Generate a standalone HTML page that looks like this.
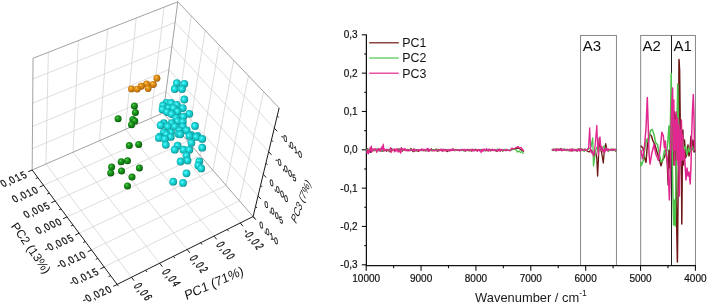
<!DOCTYPE html>
<html><head><meta charset="utf-8"><style>
html,body{margin:0;padding:0;background:#fff;}
svg{display:block;will-change:transform;}
text{font-family:"Liberation Sans",sans-serif;}
</style></head><body>
<svg width="708" height="305" viewBox="0 0 708 305">
<defs>
<radialGradient id="gc" cx="0.45" cy="0.47" r="0.58" fx="0.38" fy="0.4">
<stop offset="0" stop-color="#7cfcfc"/><stop offset="0.3" stop-color="#22e4e6"/><stop offset="0.75" stop-color="#12b6b8"/><stop offset="1" stop-color="#087e80"/></radialGradient>
<radialGradient id="gg" cx="0.45" cy="0.45" r="0.58" fx="0.36" fy="0.33">
<stop offset="0" stop-color="#6ad86a"/><stop offset="0.3" stop-color="#22a022"/><stop offset="0.75" stop-color="#0f7a0f"/><stop offset="1" stop-color="#054805"/></radialGradient>
<radialGradient id="go" cx="0.45" cy="0.45" r="0.58" fx="0.36" fy="0.33">
<stop offset="0" stop-color="#ffd870"/><stop offset="0.3" stop-color="#e8981e"/><stop offset="0.75" stop-color="#c8780a"/><stop offset="1" stop-color="#8a4a00"/></radialGradient>
</defs>
<g><line x1="48.34" y1="52.30" x2="45.95" y2="164.02" stroke="#cfcfcf" stroke-width="0.7"/>
<line x1="78.35" y1="40.60" x2="73.02" y2="152.23" stroke="#cfcfcf" stroke-width="0.7"/>
<line x1="107.63" y1="29.18" x2="99.49" y2="140.70" stroke="#cfcfcf" stroke-width="0.7"/>
<line x1="136.20" y1="18.03" x2="125.39" y2="129.43" stroke="#cfcfcf" stroke-width="0.7"/>
<line x1="164.10" y1="7.16" x2="150.73" y2="118.39" stroke="#cfcfcf" stroke-width="0.7"/>
<line x1="32.89" y1="79.00" x2="175.10" y2="22.34" stroke="#cfcfcf" stroke-width="0.7"/>
<line x1="32.70" y1="103.27" x2="171.94" y2="46.43" stroke="#cfcfcf" stroke-width="0.7"/>
<line x1="32.52" y1="126.49" x2="168.91" y2="69.52" stroke="#cfcfcf" stroke-width="0.7"/>
<line x1="32.35" y1="148.71" x2="166.00" y2="91.68" stroke="#cfcfcf" stroke-width="0.7"/>
<line x1="191.31" y1="15.96" x2="175.27" y2="126.87" stroke="#cfcfcf" stroke-width="0.7"/>
<line x1="205.13" y1="30.43" x2="187.58" y2="141.05" stroke="#cfcfcf" stroke-width="0.7"/>
<line x1="219.26" y1="45.22" x2="200.14" y2="155.53" stroke="#cfcfcf" stroke-width="0.7"/>
<line x1="233.71" y1="60.36" x2="212.97" y2="170.31" stroke="#cfcfcf" stroke-width="0.7"/>
<line x1="248.50" y1="75.84" x2="226.06" y2="185.39" stroke="#cfcfcf" stroke-width="0.7"/>
<line x1="263.64" y1="91.69" x2="239.43" y2="200.80" stroke="#cfcfcf" stroke-width="0.7"/>
<line x1="274.30" y1="128.12" x2="175.10" y2="22.34" stroke="#cfcfcf" stroke-width="0.7"/>
<line x1="268.64" y1="151.72" x2="171.94" y2="46.43" stroke="#cfcfcf" stroke-width="0.7"/>
<line x1="263.22" y1="174.29" x2="168.91" y2="69.52" stroke="#cfcfcf" stroke-width="0.7"/>
<line x1="258.04" y1="195.87" x2="166.00" y2="91.68" stroke="#cfcfcf" stroke-width="0.7"/>
<line x1="131.48" y1="277.27" x2="45.95" y2="164.02" stroke="#cfcfcf" stroke-width="0.7"/>
<line x1="159.63" y1="263.21" x2="73.02" y2="152.23" stroke="#cfcfcf" stroke-width="0.7"/>
<line x1="187.12" y1="249.48" x2="99.49" y2="140.70" stroke="#cfcfcf" stroke-width="0.7"/>
<line x1="213.97" y1="236.07" x2="125.39" y2="129.43" stroke="#cfcfcf" stroke-width="0.7"/>
<line x1="240.20" y1="222.97" x2="150.73" y2="118.39" stroke="#cfcfcf" stroke-width="0.7"/>
<line x1="43.55" y1="185.31" x2="175.27" y2="126.87" stroke="#cfcfcf" stroke-width="0.7"/>
<line x1="55.15" y1="200.95" x2="187.58" y2="141.05" stroke="#cfcfcf" stroke-width="0.7"/>
<line x1="67.01" y1="216.92" x2="200.14" y2="155.53" stroke="#cfcfcf" stroke-width="0.7"/>
<line x1="79.13" y1="233.24" x2="212.97" y2="170.31" stroke="#cfcfcf" stroke-width="0.7"/>
<line x1="91.52" y1="249.92" x2="226.06" y2="185.39" stroke="#cfcfcf" stroke-width="0.7"/>
<line x1="104.19" y1="266.98" x2="239.43" y2="200.80" stroke="#cfcfcf" stroke-width="0.7"/>
<line x1="33.05" y1="58.26" x2="177.80" y2="1.81" stroke="#8a8a8a" stroke-width="0.8"/>
<line x1="177.80" y1="1.81" x2="279.15" y2="107.92" stroke="#8a8a8a" stroke-width="0.8"/>
<line x1="33.05" y1="58.26" x2="32.18" y2="170.01" stroke="#8a8a8a" stroke-width="0.8"/>
<line x1="177.80" y1="1.81" x2="163.20" y2="112.96" stroke="#8a8a8a" stroke-width="0.8"/>
<line x1="32.18" y1="170.01" x2="163.20" y2="112.96" stroke="#8a8a8a" stroke-width="0.8"/>
<line x1="163.20" y1="112.96" x2="253.08" y2="216.54" stroke="#8a8a8a" stroke-width="0.8"/>
<line x1="32.18" y1="170.01" x2="117.14" y2="284.43" stroke="#1a1a1a" stroke-width="1.0"/>
<line x1="117.14" y1="284.43" x2="253.08" y2="216.54" stroke="#1a1a1a" stroke-width="1.0"/>
<line x1="279.15" y1="107.92" x2="253.08" y2="216.54" stroke="#1a1a1a" stroke-width="1.0"/>
<line x1="32.18" y1="170.01" x2="28.24" y2="171.73" stroke="#1a1a1a" stroke-width="1.0"/>
<line x1="37.84" y1="177.62" x2="35.73" y2="178.55" stroke="#1a1a1a" stroke-width="1.0"/>
<line x1="43.55" y1="185.31" x2="39.62" y2="187.06" stroke="#1a1a1a" stroke-width="1.0"/>
<line x1="49.32" y1="193.09" x2="47.22" y2="194.03" stroke="#1a1a1a" stroke-width="1.0"/>
<line x1="55.15" y1="200.95" x2="51.24" y2="202.72" stroke="#1a1a1a" stroke-width="1.0"/>
<line x1="61.05" y1="208.89" x2="58.96" y2="209.84" stroke="#1a1a1a" stroke-width="1.0"/>
<line x1="67.01" y1="216.92" x2="63.11" y2="218.72" stroke="#1a1a1a" stroke-width="1.0"/>
<line x1="73.04" y1="225.03" x2="70.96" y2="226.01" stroke="#1a1a1a" stroke-width="1.0"/>
<line x1="79.13" y1="233.24" x2="75.24" y2="235.07" stroke="#1a1a1a" stroke-width="1.0"/>
<line x1="85.29" y1="241.54" x2="83.22" y2="242.52" stroke="#1a1a1a" stroke-width="1.0"/>
<line x1="91.52" y1="249.92" x2="87.64" y2="251.78" stroke="#1a1a1a" stroke-width="1.0"/>
<line x1="97.82" y1="258.41" x2="95.75" y2="259.41" stroke="#1a1a1a" stroke-width="1.0"/>
<line x1="104.19" y1="266.98" x2="100.33" y2="268.87" stroke="#1a1a1a" stroke-width="1.0"/>
<line x1="110.63" y1="275.66" x2="108.57" y2="276.68" stroke="#1a1a1a" stroke-width="1.0"/>
<line x1="117.14" y1="284.43" x2="113.29" y2="286.35" stroke="#1a1a1a" stroke-width="1.0"/>
<line x1="131.48" y1="277.27" x2="134.07" y2="280.70" stroke="#1a1a1a" stroke-width="1.0"/>
<line x1="159.63" y1="263.21" x2="162.28" y2="266.60" stroke="#1a1a1a" stroke-width="1.0"/>
<line x1="187.12" y1="249.48" x2="189.82" y2="252.83" stroke="#1a1a1a" stroke-width="1.0"/>
<line x1="213.97" y1="236.07" x2="216.72" y2="239.38" stroke="#1a1a1a" stroke-width="1.0"/>
<line x1="240.20" y1="222.97" x2="242.99" y2="226.24" stroke="#1a1a1a" stroke-width="1.0"/>
<line x1="117.14" y1="284.43" x2="118.51" y2="286.28" stroke="#1a1a1a" stroke-width="1.0"/>
<line x1="145.64" y1="270.20" x2="147.04" y2="272.02" stroke="#1a1a1a" stroke-width="1.0"/>
<line x1="173.46" y1="256.30" x2="174.89" y2="258.10" stroke="#1a1a1a" stroke-width="1.0"/>
<line x1="200.63" y1="242.73" x2="202.08" y2="244.51" stroke="#1a1a1a" stroke-width="1.0"/>
<line x1="227.16" y1="229.48" x2="228.64" y2="231.24" stroke="#1a1a1a" stroke-width="1.0"/>
<line x1="253.08" y1="216.54" x2="254.59" y2="218.27" stroke="#1a1a1a" stroke-width="1.0"/>
<line x1="274.30" y1="128.12" x2="277.24" y2="131.25" stroke="#1a1a1a" stroke-width="1.0"/>
<line x1="268.64" y1="151.72" x2="271.54" y2="154.89" stroke="#1a1a1a" stroke-width="1.0"/>
<line x1="263.22" y1="174.29" x2="266.10" y2="177.48" stroke="#1a1a1a" stroke-width="1.0"/>
<line x1="258.04" y1="195.87" x2="260.89" y2="199.09" stroke="#1a1a1a" stroke-width="1.0"/>
<line x1="253.08" y1="216.54" x2="255.90" y2="219.78" stroke="#1a1a1a" stroke-width="1.0"/>
<line x1="277.23" y1="115.90" x2="278.82" y2="117.56" stroke="#1a1a1a" stroke-width="1.0"/>
<line x1="271.44" y1="140.06" x2="273.00" y2="141.74" stroke="#1a1a1a" stroke-width="1.0"/>
<line x1="265.90" y1="163.13" x2="267.45" y2="164.83" stroke="#1a1a1a" stroke-width="1.0"/>
<line x1="260.60" y1="185.20" x2="262.13" y2="186.91" stroke="#1a1a1a" stroke-width="1.0"/>
<line x1="255.54" y1="206.31" x2="257.05" y2="208.04" stroke="#1a1a1a" stroke-width="1.0"/></g>
<g><circle cx="156.9" cy="78.2" r="3.45" fill="url(#go)"/>
<circle cx="146.6" cy="83.9" r="3.45" fill="url(#go)"/>
<circle cx="153.3" cy="84.5" r="3.45" fill="url(#go)"/>
<circle cx="141.2" cy="86.2" r="3.45" fill="url(#go)"/>
<circle cx="148.1" cy="88.5" r="3.45" fill="url(#go)"/>
<circle cx="131.5" cy="88.9" r="3.45" fill="url(#go)"/>
<circle cx="137.2" cy="89.1" r="3.45" fill="url(#go)"/>
<circle cx="134.4" cy="105.9" r="3.5" fill="url(#gg)"/>
<circle cx="135.4" cy="112.5" r="3.5" fill="url(#gg)"/>
<circle cx="118.1" cy="118.8" r="3.5" fill="url(#gg)"/>
<circle cx="132.8" cy="119.4" r="3.5" fill="url(#gg)"/>
<circle cx="134.8" cy="121.0" r="3.5" fill="url(#gg)"/>
<circle cx="131.5" cy="124.7" r="3.5" fill="url(#gg)"/>
<circle cx="138.7" cy="144.4" r="3.5" fill="url(#gg)"/>
<circle cx="129.3" cy="145.5" r="3.5" fill="url(#gg)"/>
<circle cx="127.5" cy="160.8" r="3.5" fill="url(#gg)"/>
<circle cx="121.2" cy="161.7" r="3.5" fill="url(#gg)"/>
<circle cx="111.6" cy="167.1" r="3.5" fill="url(#gg)"/>
<circle cx="139.4" cy="168.0" r="3.5" fill="url(#gg)"/>
<circle cx="121.5" cy="171.1" r="3.5" fill="url(#gg)"/>
<circle cx="110.7" cy="172.9" r="3.5" fill="url(#gg)"/>
<circle cx="132.0" cy="177.1" r="3.5" fill="url(#gg)"/>
<circle cx="127.5" cy="185.9" r="3.5" fill="url(#gg)"/>
<circle cx="176.8" cy="83.1" r="3.9" fill="url(#gc)"/>
<circle cx="184.3" cy="83.8" r="3.9" fill="url(#gc)"/>
<circle cx="174.7" cy="89.0" r="3.9" fill="url(#gc)"/>
<circle cx="182.0" cy="89.0" r="3.9" fill="url(#gc)"/>
<circle cx="184.3" cy="99.5" r="3.9" fill="url(#gc)"/>
<circle cx="166.4" cy="102.9" r="3.9" fill="url(#gc)"/>
<circle cx="171.0" cy="102.9" r="3.9" fill="url(#gc)"/>
<circle cx="176.9" cy="104.8" r="3.9" fill="url(#gc)"/>
<circle cx="163.1" cy="105.5" r="3.9" fill="url(#gc)"/>
<circle cx="168.4" cy="108.1" r="3.9" fill="url(#gc)"/>
<circle cx="173.6" cy="108.1" r="3.9" fill="url(#gc)"/>
<circle cx="182.8" cy="108.1" r="3.9" fill="url(#gc)"/>
<circle cx="162.5" cy="109.4" r="3.9" fill="url(#gc)"/>
<circle cx="177.5" cy="111.4" r="3.9" fill="url(#gc)"/>
<circle cx="167.0" cy="112.0" r="3.9" fill="url(#gc)"/>
<circle cx="189.3" cy="113.8" r="3.9" fill="url(#gc)"/>
<circle cx="171.6" cy="114.0" r="3.9" fill="url(#gc)"/>
<circle cx="183.4" cy="116.6" r="3.9" fill="url(#gc)"/>
<circle cx="176.2" cy="118.0" r="3.9" fill="url(#gc)"/>
<circle cx="177.5" cy="121.2" r="3.9" fill="url(#gc)"/>
<circle cx="182.8" cy="121.9" r="3.9" fill="url(#gc)"/>
<circle cx="163.8" cy="123.2" r="3.9" fill="url(#gc)"/>
<circle cx="171.6" cy="123.2" r="3.9" fill="url(#gc)"/>
<circle cx="160.7" cy="125.2" r="3.9" fill="url(#gc)"/>
<circle cx="195.0" cy="126.0" r="3.9" fill="url(#gc)"/>
<circle cx="167.7" cy="126.5" r="3.9" fill="url(#gc)"/>
<circle cx="174.9" cy="126.5" r="3.9" fill="url(#gc)"/>
<circle cx="182.8" cy="126.5" r="3.9" fill="url(#gc)"/>
<circle cx="179.5" cy="130.4" r="3.9" fill="url(#gc)"/>
<circle cx="186.7" cy="130.4" r="3.9" fill="url(#gc)"/>
<circle cx="171.0" cy="132.4" r="3.9" fill="url(#gc)"/>
<circle cx="163.8" cy="132.4" r="3.9" fill="url(#gc)"/>
<circle cx="178.6" cy="133.9" r="3.9" fill="url(#gc)"/>
<circle cx="166.4" cy="134.3" r="3.9" fill="url(#gc)"/>
<circle cx="180.3" cy="134.3" r="3.9" fill="url(#gc)"/>
<circle cx="191.0" cy="135.0" r="3.9" fill="url(#gc)"/>
<circle cx="197.5" cy="135.9" r="3.9" fill="url(#gc)"/>
<circle cx="189.4" cy="135.9" r="3.9" fill="url(#gc)"/>
<circle cx="159.8" cy="136.7" r="3.9" fill="url(#gc)"/>
<circle cx="170.7" cy="136.9" r="3.9" fill="url(#gc)"/>
<circle cx="196.3" cy="136.9" r="3.9" fill="url(#gc)"/>
<circle cx="158.9" cy="137.9" r="3.9" fill="url(#gc)"/>
<circle cx="164.8" cy="138.9" r="3.9" fill="url(#gc)"/>
<circle cx="202.2" cy="138.9" r="3.9" fill="url(#gc)"/>
<circle cx="191.4" cy="142.8" r="3.9" fill="url(#gc)"/>
<circle cx="165.8" cy="144.8" r="3.9" fill="url(#gc)"/>
<circle cx="177.6" cy="145.7" r="3.9" fill="url(#gc)"/>
<circle cx="202.2" cy="147.7" r="3.9" fill="url(#gc)"/>
<circle cx="174.7" cy="149.7" r="3.9" fill="url(#gc)"/>
<circle cx="183.5" cy="149.7" r="3.9" fill="url(#gc)"/>
<circle cx="189.4" cy="149.7" r="3.9" fill="url(#gc)"/>
<circle cx="186.5" cy="155.6" r="3.9" fill="url(#gc)"/>
<circle cx="187.5" cy="160.5" r="3.9" fill="url(#gc)"/>
<circle cx="180.6" cy="161.5" r="3.9" fill="url(#gc)"/>
<circle cx="199.3" cy="161.5" r="3.9" fill="url(#gc)"/>
<circle cx="198.3" cy="165.4" r="3.9" fill="url(#gc)"/>
<circle cx="201.2" cy="168.4" r="3.9" fill="url(#gc)"/>
<circle cx="186.5" cy="173.3" r="3.9" fill="url(#gc)"/>
<circle cx="173.2" cy="181.7" r="3.9" fill="url(#gc)"/>
<circle cx="183.0" cy="182.9" r="3.9" fill="url(#gc)"/></g>
<g><text transform="matrix(0.3384,0.6693,-1.0709,0.5415,133.48,285.76)" font-size="10" fill="#111" stroke="#111" stroke-width="0.3">0</text>
<text transform="matrix(0.3384,0.6693,-1.0709,0.5415,137.53,290.49)" font-size="10" fill="#111" stroke="#111" stroke-width="0.3">,</text>
<text transform="matrix(0.3384,0.6693,-1.0709,0.5415,139.55,292.86)" font-size="10" fill="#111" stroke="#111" stroke-width="0.3">0</text>
<text transform="matrix(0.3384,0.6693,-1.0709,0.5415,143.60,297.59)" font-size="10" fill="#111" stroke="#111" stroke-width="0.3">6</text>
<text transform="matrix(0.3384,0.6693,-1.0709,0.5415,161.64,271.70)" font-size="10" fill="#111" stroke="#111" stroke-width="0.3">0</text>
<text transform="matrix(0.3384,0.6693,-1.0709,0.5415,165.69,276.43)" font-size="10" fill="#111" stroke="#111" stroke-width="0.3">,</text>
<text transform="matrix(0.3384,0.6693,-1.0709,0.5415,167.71,278.79)" font-size="10" fill="#111" stroke="#111" stroke-width="0.3">0</text>
<text transform="matrix(0.3384,0.6693,-1.0709,0.5415,171.76,283.53)" font-size="10" fill="#111" stroke="#111" stroke-width="0.3">4</text>
<text transform="matrix(0.3384,0.6693,-1.0709,0.5415,189.13,257.97)" font-size="10" fill="#111" stroke="#111" stroke-width="0.3">0</text>
<text transform="matrix(0.3384,0.6693,-1.0709,0.5415,193.18,262.70)" font-size="10" fill="#111" stroke="#111" stroke-width="0.3">,</text>
<text transform="matrix(0.3384,0.6693,-1.0709,0.5415,195.20,265.07)" font-size="10" fill="#111" stroke="#111" stroke-width="0.3">0</text>
<text transform="matrix(0.3384,0.6693,-1.0709,0.5415,199.25,269.80)" font-size="10" fill="#111" stroke="#111" stroke-width="0.3">2</text>
<text transform="matrix(0.3384,0.6693,-1.0709,0.5415,215.97,244.56)" font-size="10" fill="#111" stroke="#111" stroke-width="0.3">0</text>
<text transform="matrix(0.3384,0.6693,-1.0709,0.5415,220.02,249.29)" font-size="10" fill="#111" stroke="#111" stroke-width="0.3">,</text>
<text transform="matrix(0.3384,0.6693,-1.0709,0.5415,222.05,251.66)" font-size="10" fill="#111" stroke="#111" stroke-width="0.3">0</text>
<text transform="matrix(0.3384,0.6693,-1.0709,0.5415,226.09,256.39)" font-size="10" fill="#111" stroke="#111" stroke-width="0.3">0</text>
<text transform="matrix(0.3384,0.6693,-1.0709,0.5415,242.38,231.81)" font-size="10" fill="#111" stroke="#111" stroke-width="0.3">-</text>
<text transform="matrix(0.3384,0.6693,-1.0709,0.5415,244.80,234.64)" font-size="10" fill="#111" stroke="#111" stroke-width="0.3">0</text>
<text transform="matrix(0.3384,0.6693,-1.0709,0.5415,248.85,239.37)" font-size="10" fill="#111" stroke="#111" stroke-width="0.3">,</text>
<text transform="matrix(0.3384,0.6693,-1.0709,0.5415,250.87,241.74)" font-size="10" fill="#111" stroke="#111" stroke-width="0.3">0</text>
<text transform="matrix(0.3384,0.6693,-1.0709,0.5415,254.92,246.47)" font-size="10" fill="#111" stroke="#111" stroke-width="0.3">2</text>
<text transform="matrix(0.6492,0.0328,0.1438,0.9492,281.44,139.18)" font-size="10" fill="#111" stroke="#111" stroke-width="0.3">-</text>
<text transform="matrix(0.6492,0.0328,0.1438,0.9492,283.95,141.84)" font-size="10" fill="#111" stroke="#111" stroke-width="0.3">0</text>
<text transform="matrix(0.6492,0.0328,0.1438,0.9492,288.15,146.28)" font-size="10" fill="#111" stroke="#111" stroke-width="0.3">,</text>
<text transform="matrix(0.6492,0.0328,0.1438,0.9492,290.26,148.51)" font-size="10" fill="#111" stroke="#111" stroke-width="0.3">0</text>
<text transform="matrix(0.6492,0.0328,0.1438,0.9492,294.46,152.95)" font-size="10" fill="#111" stroke="#111" stroke-width="0.3">1</text>
<text transform="matrix(0.6492,0.0328,0.1438,0.9492,298.66,157.40)" font-size="10" fill="#111" stroke="#111" stroke-width="0.3">0</text>
<text transform="matrix(0.6492,0.0328,0.1438,0.9492,275.77,162.79)" font-size="10" fill="#111" stroke="#111" stroke-width="0.3">-</text>
<text transform="matrix(0.6492,0.0328,0.1438,0.9492,278.29,165.45)" font-size="10" fill="#111" stroke="#111" stroke-width="0.3">0</text>
<text transform="matrix(0.6492,0.0328,0.1438,0.9492,282.49,169.89)" font-size="10" fill="#111" stroke="#111" stroke-width="0.3">,</text>
<text transform="matrix(0.6492,0.0328,0.1438,0.9492,284.59,172.12)" font-size="10" fill="#111" stroke="#111" stroke-width="0.3">0</text>
<text transform="matrix(0.6492,0.0328,0.1438,0.9492,288.79,176.56)" font-size="10" fill="#111" stroke="#111" stroke-width="0.3">0</text>
<text transform="matrix(0.6492,0.0328,0.1438,0.9492,292.99,181.01)" font-size="10" fill="#111" stroke="#111" stroke-width="0.3">5</text>
<text transform="matrix(0.6492,0.0328,0.1438,0.9492,270.13,186.11)" font-size="10" fill="#111" stroke="#111" stroke-width="0.3">0</text>
<text transform="matrix(0.6492,0.0328,0.1438,0.9492,274.34,190.56)" font-size="10" fill="#111" stroke="#111" stroke-width="0.3">,</text>
<text transform="matrix(0.6492,0.0328,0.1438,0.9492,276.44,192.78)" font-size="10" fill="#111" stroke="#111" stroke-width="0.3">0</text>
<text transform="matrix(0.6492,0.0328,0.1438,0.9492,280.64,197.22)" font-size="10" fill="#111" stroke="#111" stroke-width="0.3">0</text>
<text transform="matrix(0.6492,0.0328,0.1438,0.9492,284.84,201.67)" font-size="10" fill="#111" stroke="#111" stroke-width="0.3">0</text>
<text transform="matrix(0.6492,0.0328,0.1438,0.9492,264.96,207.69)" font-size="10" fill="#111" stroke="#111" stroke-width="0.3">0</text>
<text transform="matrix(0.6492,0.0328,0.1438,0.9492,269.16,212.14)" font-size="10" fill="#111" stroke="#111" stroke-width="0.3">,</text>
<text transform="matrix(0.6492,0.0328,0.1438,0.9492,271.26,214.36)" font-size="10" fill="#111" stroke="#111" stroke-width="0.3">0</text>
<text transform="matrix(0.6492,0.0328,0.1438,0.9492,275.46,218.81)" font-size="10" fill="#111" stroke="#111" stroke-width="0.3">0</text>
<text transform="matrix(0.6492,0.0328,0.1438,0.9492,279.66,223.25)" font-size="10" fill="#111" stroke="#111" stroke-width="0.3">5</text>
<text transform="matrix(0.6492,0.0328,0.1438,0.9492,260.00,228.36)" font-size="10" fill="#111" stroke="#111" stroke-width="0.3">0</text>
<text transform="matrix(0.6492,0.0328,0.1438,0.9492,264.20,232.81)" font-size="10" fill="#111" stroke="#111" stroke-width="0.3">,</text>
<text transform="matrix(0.6492,0.0328,0.1438,0.9492,266.30,235.03)" font-size="10" fill="#111" stroke="#111" stroke-width="0.3">0</text>
<text transform="matrix(0.6492,0.0328,0.1438,0.9492,270.50,239.47)" font-size="10" fill="#111" stroke="#111" stroke-width="0.3">1</text>
<text transform="matrix(0.6492,0.0328,0.1438,0.9492,274.70,243.92)" font-size="10" fill="#111" stroke="#111" stroke-width="0.3">0</text>
<text transform="matrix(0.8119,-0.3395,0.5831,0.8852,3.30,187.37)" font-size="10" fill="#111" stroke="#111" stroke-width="0.3">0</text>
<text transform="matrix(0.8119,-0.3395,0.5831,0.8852,8.99,184.99)" font-size="10" fill="#111" stroke="#111" stroke-width="0.3">,</text>
<text transform="matrix(0.8119,-0.3395,0.5831,0.8852,11.84,183.80)" font-size="10" fill="#111" stroke="#111" stroke-width="0.3">0</text>
<text transform="matrix(0.8119,-0.3395,0.5831,0.8852,17.53,181.42)" font-size="10" fill="#111" stroke="#111" stroke-width="0.3">1</text>
<text transform="matrix(0.8119,-0.3395,0.5831,0.8852,23.23,179.04)" font-size="10" fill="#111" stroke="#111" stroke-width="0.3">5</text>
<text transform="matrix(0.8119,-0.3395,0.5831,0.8852,14.66,202.68)" font-size="10" fill="#111" stroke="#111" stroke-width="0.3">0</text>
<text transform="matrix(0.8119,-0.3395,0.5831,0.8852,20.35,200.30)" font-size="10" fill="#111" stroke="#111" stroke-width="0.3">,</text>
<text transform="matrix(0.8119,-0.3395,0.5831,0.8852,23.20,199.11)" font-size="10" fill="#111" stroke="#111" stroke-width="0.3">0</text>
<text transform="matrix(0.8119,-0.3395,0.5831,0.8852,28.90,196.73)" font-size="10" fill="#111" stroke="#111" stroke-width="0.3">1</text>
<text transform="matrix(0.8119,-0.3395,0.5831,0.8852,34.59,194.34)" font-size="10" fill="#111" stroke="#111" stroke-width="0.3">0</text>
<text transform="matrix(0.8119,-0.3395,0.5831,0.8852,26.27,218.31)" font-size="10" fill="#111" stroke="#111" stroke-width="0.3">0</text>
<text transform="matrix(0.8119,-0.3395,0.5831,0.8852,31.96,215.93)" font-size="10" fill="#111" stroke="#111" stroke-width="0.3">,</text>
<text transform="matrix(0.8119,-0.3395,0.5831,0.8852,34.81,214.74)" font-size="10" fill="#111" stroke="#111" stroke-width="0.3">0</text>
<text transform="matrix(0.8119,-0.3395,0.5831,0.8852,40.50,212.36)" font-size="10" fill="#111" stroke="#111" stroke-width="0.3">0</text>
<text transform="matrix(0.8119,-0.3395,0.5831,0.8852,46.20,209.98)" font-size="10" fill="#111" stroke="#111" stroke-width="0.3">5</text>
<text transform="matrix(0.8119,-0.3395,0.5831,0.8852,38.13,234.28)" font-size="10" fill="#111" stroke="#111" stroke-width="0.3">0</text>
<text transform="matrix(0.8119,-0.3395,0.5831,0.8852,43.82,231.90)" font-size="10" fill="#111" stroke="#111" stroke-width="0.3">,</text>
<text transform="matrix(0.8119,-0.3395,0.5831,0.8852,46.67,230.71)" font-size="10" fill="#111" stroke="#111" stroke-width="0.3">0</text>
<text transform="matrix(0.8119,-0.3395,0.5831,0.8852,52.36,228.33)" font-size="10" fill="#111" stroke="#111" stroke-width="0.3">0</text>
<text transform="matrix(0.8119,-0.3395,0.5831,0.8852,58.06,225.95)" font-size="10" fill="#111" stroke="#111" stroke-width="0.3">0</text>
<text transform="matrix(0.8119,-0.3395,0.5831,0.8852,46.60,252.13)" font-size="10" fill="#111" stroke="#111" stroke-width="0.3">-</text>
<text transform="matrix(0.8119,-0.3395,0.5831,0.8852,50.01,250.70)" font-size="10" fill="#111" stroke="#111" stroke-width="0.3">0</text>
<text transform="matrix(0.8119,-0.3395,0.5831,0.8852,55.70,248.32)" font-size="10" fill="#111" stroke="#111" stroke-width="0.3">,</text>
<text transform="matrix(0.8119,-0.3395,0.5831,0.8852,58.55,247.13)" font-size="10" fill="#111" stroke="#111" stroke-width="0.3">0</text>
<text transform="matrix(0.8119,-0.3395,0.5831,0.8852,64.24,244.75)" font-size="10" fill="#111" stroke="#111" stroke-width="0.3">0</text>
<text transform="matrix(0.8119,-0.3395,0.5831,0.8852,69.94,242.37)" font-size="10" fill="#111" stroke="#111" stroke-width="0.3">5</text>
<text transform="matrix(0.8119,-0.3395,0.5831,0.8852,58.99,268.81)" font-size="10" fill="#111" stroke="#111" stroke-width="0.3">-</text>
<text transform="matrix(0.8119,-0.3395,0.5831,0.8852,62.40,267.39)" font-size="10" fill="#111" stroke="#111" stroke-width="0.3">0</text>
<text transform="matrix(0.8119,-0.3395,0.5831,0.8852,68.09,265.01)" font-size="10" fill="#111" stroke="#111" stroke-width="0.3">,</text>
<text transform="matrix(0.8119,-0.3395,0.5831,0.8852,70.94,263.82)" font-size="10" fill="#111" stroke="#111" stroke-width="0.3">0</text>
<text transform="matrix(0.8119,-0.3395,0.5831,0.8852,76.63,261.44)" font-size="10" fill="#111" stroke="#111" stroke-width="0.3">1</text>
<text transform="matrix(0.8119,-0.3395,0.5831,0.8852,82.33,259.05)" font-size="10" fill="#111" stroke="#111" stroke-width="0.3">0</text>
<text transform="matrix(0.8119,-0.3395,0.5831,0.8852,71.66,285.87)" font-size="10" fill="#111" stroke="#111" stroke-width="0.3">-</text>
<text transform="matrix(0.8119,-0.3395,0.5831,0.8852,75.07,284.45)" font-size="10" fill="#111" stroke="#111" stroke-width="0.3">0</text>
<text transform="matrix(0.8119,-0.3395,0.5831,0.8852,80.76,282.07)" font-size="10" fill="#111" stroke="#111" stroke-width="0.3">,</text>
<text transform="matrix(0.8119,-0.3395,0.5831,0.8852,83.61,280.88)" font-size="10" fill="#111" stroke="#111" stroke-width="0.3">0</text>
<text transform="matrix(0.8119,-0.3395,0.5831,0.8852,89.30,278.49)" font-size="10" fill="#111" stroke="#111" stroke-width="0.3">1</text>
<text transform="matrix(0.8119,-0.3395,0.5831,0.8852,94.99,276.11)" font-size="10" fill="#111" stroke="#111" stroke-width="0.3">5</text>
<text transform="matrix(0.8119,-0.3395,0.5831,0.8852,84.61,303.32)" font-size="10" fill="#111" stroke="#111" stroke-width="0.3">-</text>
<text transform="matrix(0.8119,-0.3395,0.5831,0.8852,88.02,301.89)" font-size="10" fill="#111" stroke="#111" stroke-width="0.3">0</text>
<text transform="matrix(0.8119,-0.3395,0.5831,0.8852,93.71,299.51)" font-size="10" fill="#111" stroke="#111" stroke-width="0.3">,</text>
<text transform="matrix(0.8119,-0.3395,0.5831,0.8852,96.56,298.32)" font-size="10" fill="#111" stroke="#111" stroke-width="0.3">0</text>
<text transform="matrix(0.8119,-0.3395,0.5831,0.8852,102.25,295.94)" font-size="10" fill="#111" stroke="#111" stroke-width="0.3">2</text>
<text transform="matrix(0.8119,-0.3395,0.5831,0.8852,107.95,293.56)" font-size="10" fill="#111" stroke="#111" stroke-width="0.3">0</text></g>
<text transform="translate(10.6,226.2) rotate(55)" font-size="12.1" fill="#111">PC2 (13%)</text>
<text transform="translate(186.2,300.2) rotate(-24) skewX(-8)" font-size="13" fill="#111">PC1 (71%)</text>
<text transform="translate(296,224.5) rotate(-70) skewX(-30)" font-size="10" fill="#111">PC3 (7%)</text>
<g><rect x="580.6" y="35.4" width="35.799999999999955" height="229.99999999999997" fill="none" stroke="#7a7a7a" stroke-width="0.9"/>
<rect x="640.7" y="35.4" width="54.69999999999993" height="229.99999999999997" fill="none" stroke="#7a7a7a" stroke-width="0.9"/>
<line x1="671.50" y1="35.40" x2="671.50" y2="265.40" stroke="#222" stroke-width="1"/>
<line x1="366.40" y1="34.50" x2="366.40" y2="266.10" stroke="#111" stroke-width="1.25"/>
<line x1="365.80" y1="265.60" x2="696.00" y2="265.60" stroke="#111" stroke-width="1.25"/>
<line x1="361.80" y1="34.81" x2="366.40" y2="34.81" stroke="#111" stroke-width="1.1"/>
<line x1="364.20" y1="53.98" x2="366.40" y2="53.98" stroke="#111" stroke-width="1.1"/>
<line x1="361.80" y1="73.14" x2="366.40" y2="73.14" stroke="#111" stroke-width="1.1"/>
<line x1="364.20" y1="92.31" x2="366.40" y2="92.31" stroke="#111" stroke-width="1.1"/>
<line x1="361.80" y1="111.47" x2="366.40" y2="111.47" stroke="#111" stroke-width="1.1"/>
<line x1="364.20" y1="130.64" x2="366.40" y2="130.64" stroke="#111" stroke-width="1.1"/>
<line x1="361.80" y1="149.80" x2="366.40" y2="149.80" stroke="#111" stroke-width="1.1"/>
<line x1="364.20" y1="168.97" x2="366.40" y2="168.97" stroke="#111" stroke-width="1.1"/>
<line x1="361.80" y1="188.13" x2="366.40" y2="188.13" stroke="#111" stroke-width="1.1"/>
<line x1="364.20" y1="207.30" x2="366.40" y2="207.30" stroke="#111" stroke-width="1.1"/>
<line x1="361.80" y1="226.46" x2="366.40" y2="226.46" stroke="#111" stroke-width="1.1"/>
<line x1="364.20" y1="245.62" x2="366.40" y2="245.62" stroke="#111" stroke-width="1.1"/>
<line x1="361.80" y1="264.79" x2="366.40" y2="264.79" stroke="#111" stroke-width="1.1"/>
<line x1="366.20" y1="265.60" x2="366.20" y2="270.80" stroke="#111" stroke-width="1.1"/>
<line x1="393.63" y1="265.60" x2="393.63" y2="268.20" stroke="#111" stroke-width="1.1"/>
<line x1="421.07" y1="265.60" x2="421.07" y2="270.80" stroke="#111" stroke-width="1.1"/>
<line x1="448.50" y1="265.60" x2="448.50" y2="268.20" stroke="#111" stroke-width="1.1"/>
<line x1="475.93" y1="265.60" x2="475.93" y2="270.80" stroke="#111" stroke-width="1.1"/>
<line x1="503.37" y1="265.60" x2="503.37" y2="268.20" stroke="#111" stroke-width="1.1"/>
<line x1="530.80" y1="265.60" x2="530.80" y2="270.80" stroke="#111" stroke-width="1.1"/>
<line x1="558.23" y1="265.60" x2="558.23" y2="268.20" stroke="#111" stroke-width="1.1"/>
<line x1="585.67" y1="265.60" x2="585.67" y2="270.80" stroke="#111" stroke-width="1.1"/>
<line x1="613.10" y1="265.60" x2="613.10" y2="268.20" stroke="#111" stroke-width="1.1"/>
<line x1="640.53" y1="265.60" x2="640.53" y2="270.80" stroke="#111" stroke-width="1.1"/>
<line x1="667.97" y1="265.60" x2="667.97" y2="268.20" stroke="#111" stroke-width="1.1"/>
<line x1="695.40" y1="265.60" x2="695.40" y2="270.80" stroke="#111" stroke-width="1.1"/></g>
<g><polyline fill="none" stroke="#6e1616" stroke-width="1.3" stroke-linejoin="round" points="366.5,149.8 367.1,149.6 367.7,148.8 368.3,150.1 368.9,150.0 369.5,150.0 370.1,150.0 370.7,152.3 371.3,151.6 371.9,150.2 372.5,149.1 373.1,150.7 373.7,150.5 374.3,150.7 374.9,149.5 375.5,150.5 376.1,150.5 376.7,150.2 377.3,149.1 377.9,150.1 378.5,148.8 379.1,150.8 379.7,149.2 380.3,150.5 380.9,149.0 381.5,151.0 382.1,148.2 382.7,151.4 383.3,149.3 383.9,149.6 384.5,150.4 385.1,149.5 385.7,149.9 386.3,151.3 386.9,149.4 387.5,150.3 388.1,149.4 388.7,150.9 389.3,150.0 389.9,151.8 390.5,149.5 391.1,150.1 391.7,148.5 392.3,150.5 392.9,150.5 393.5,150.1 394.1,149.1 394.7,150.4 395.3,149.4 395.9,150.5 396.5,149.3 397.1,150.4 397.7,149.3 398.3,150.9 398.9,148.6 399.5,150.4 400.1,149.4 400.7,151.8 401.3,147.8 401.9,149.4 402.5,151.1 403.1,150.1 403.7,150.0 404.3,149.8 404.9,149.8 405.5,150.3 406.1,150.1 406.7,150.6 407.3,149.5 407.9,150.8 408.5,149.6 409.1,150.6 409.7,149.7 410.3,150.5 410.9,148.4 411.5,150.3 412.1,150.1 412.7,151.5 413.3,149.1 413.9,151.7 414.5,149.4 415.1,150.8 415.7,149.9 416.3,150.9 416.9,149.8 417.5,151.0 418.1,150.4 418.7,151.4 419.3,149.7 419.9,150.1 420.5,149.9 421.1,149.8 421.7,149.7 422.3,150.3 422.9,149.5 423.5,150.7 424.1,150.4 424.7,150.6 425.3,149.8 425.9,150.9 426.5,150.4 427.1,150.2 427.7,150.3 428.3,151.2 428.9,150.1 429.5,149.9 430.1,149.5 430.7,150.3 431.3,148.8 431.9,150.7 432.5,150.0 433.1,150.3 433.7,149.6 434.3,150.1 434.9,150.1 435.5,150.2 436.1,149.0 436.7,150.8 437.3,150.1 437.9,151.2 438.5,149.3 439.1,150.8 439.7,149.7 440.3,150.3 440.9,149.9 441.5,150.3 442.1,149.4 442.7,151.0 443.3,150.0 443.9,150.1 444.5,149.7 445.1,150.6 445.7,149.4 446.3,150.5 446.9,150.7 447.5,151.5 448.1,149.8 448.7,150.3 449.3,150.5 449.9,150.9 450.5,150.1 451.1,150.4 451.7,149.5 452.3,150.3 452.9,148.7 453.5,150.3 454.1,150.4 454.7,150.6 455.3,149.5 455.9,150.5 456.5,150.2 457.1,150.5 457.7,149.6 458.3,150.1 458.9,149.6 459.5,150.5 460.1,150.3 460.7,150.2 461.3,150.2 461.9,150.4 462.5,150.2 463.1,150.2 463.7,149.9 464.3,150.8 464.9,150.4 465.5,151.0 466.1,150.1 466.7,150.0 467.3,149.8 467.9,149.4 468.5,149.7 469.1,150.7 469.7,149.7 470.3,150.2 470.9,150.0 471.5,151.1 472.1,149.2 472.7,150.1 473.3,149.8 473.9,150.4 474.5,149.5 475.1,150.2 475.7,149.2 476.3,150.5 476.9,149.5 477.5,150.7 478.1,150.2 478.7,150.1 479.3,149.8 479.9,150.5 480.5,150.0 481.1,150.0 481.7,149.8 482.3,150.2 482.9,149.5 483.5,150.1 484.1,149.3 484.7,150.5 485.3,149.8 485.9,150.8 486.5,148.9 487.1,150.6 487.7,150.0 488.3,150.9 488.9,150.1 489.5,150.2 490.1,149.3 490.7,150.9 491.3,149.7 491.9,150.2 492.5,149.5 493.1,150.4 493.7,150.4 494.3,150.0 494.9,149.4 495.5,150.7 496.1,150.2 496.7,151.5 497.3,149.5 497.9,150.9 498.5,149.8 499.1,149.7 499.7,149.4 500.3,151.2 500.9,149.6 501.5,149.9 502.1,150.1 502.7,151.2 503.3,149.9 503.9,150.3 504.5,150.0 505.1,150.6 505.7,149.8 506.3,150.2 506.9,149.4 508.0,150.3 510.0,150.6 512.0,149.5 514.0,149.0 516.0,148.5 518.0,148.0 520.0,149.0 522.0,150.5 524.0,151.5"/>
<polyline fill="none" stroke="#6e1616" stroke-width="1.3" stroke-linejoin="round" points="552.0,149.5 552.5,150.2 553.0,149.3 553.5,150.4 554.0,149.0 554.5,150.3 555.0,149.6 555.5,149.9 556.0,148.7 556.5,149.9 557.0,149.9 557.5,150.0 558.0,150.0 558.5,150.4 559.0,149.4 559.5,150.4 560.0,149.3 560.5,150.3 561.0,148.5 561.5,149.9 562.0,150.0 562.5,150.0 563.0,149.6 563.5,149.9 564.0,149.0 564.5,150.2 565.0,149.3 565.5,150.3 566.0,149.6 566.5,149.7 567.0,149.7 567.5,150.5 568.0,149.8 568.5,150.1 569.0,149.6 569.5,150.2 570.0,150.1 570.5,150.6 571.0,149.8 571.5,150.2 572.0,149.1 572.5,150.8 573.0,150.1 573.5,149.9 574.0,149.4 574.5,150.2 575.0,149.6 575.5,150.1 576.0,149.6 576.5,150.3 577.0,149.8 577.5,150.3 578.0,148.9 578.5,150.2 579.0,148.9 579.5,150.1 580.0,149.1 580.5,150.9 581.0,149.2 581.5,150.1 582.0,149.0 582.5,150.4 583.0,150.4 583.5,150.0 584.0,150.0 584.5,150.3 585.0,148.9 585.5,150.0 586.0,149.6 586.5,150.3 587.0,151.0 589.0,152.0 591.0,150.0 592.5,152.0 594.0,156.0 595.5,151.0 596.8,158.0 597.6,176.0 598.4,160.0 599.2,138.0 600.3,148.0 601.5,152.0 602.5,158.0 603.3,163.0 604.2,152.0 605.7,143.7 606.8,150.0 607.5,150.0 608.0,150.0 608.5,150.0 609.0,150.3 609.5,149.7 610.0,149.6 610.5,150.3 611.0,149.7 611.5,149.8 612.0,150.0 612.5,150.6 613.0,149.2 613.5,150.3 614.0,149.7 614.5,150.2 615.0,149.9 615.5,151.1 616.0,149.5"/>
<polyline fill="none" stroke="#6e1616" stroke-width="1.5" stroke-linejoin="round" points="640.7,146.0 641.2,146.3 643.0,148.0 644.2,157.0 646.0,162.2 647.7,141.0 649.5,134.0 651.3,135.7 653.0,141.0 654.8,144.5 657.0,152.0 659.2,158.7 661.0,165.8 662.5,160.0 664.5,157.0 666.0,150.0 667.2,162.0 668.2,185.0 669.0,150.0 670.0,168.0 671.0,128.0 672.0,150.0 673.0,118.0 674.0,165.0 674.6,112.0 675.2,160.0 675.8,115.0 676.3,205.0 677.4,262.0 678.3,170.0 679.0,59.5 679.6,70.0 680.2,120.0 680.8,160.0 681.3,125.0 681.8,224.0 682.4,150.0 682.9,130.0 683.5,165.0 684.5,140.0 685.5,158.0 686.8,154.0 688.0,145.0 689.0,156.0 690.0,150.0 691.0,136.0 692.0,150.0 693.0,140.0 694.0,152.0 695.4,150.0"/>
<polyline fill="none" stroke="#4cc44c" stroke-width="1.3" stroke-linejoin="round" points="366.5,148.9 367.1,150.3 367.7,149.3 368.3,150.0 368.9,149.3 369.5,150.2 370.1,149.8 370.7,149.4 371.3,149.5 371.9,150.5 372.5,150.0 373.1,150.5 373.7,149.9 374.3,150.5 374.9,150.1 375.5,150.3 376.1,148.9 376.7,150.1 377.3,149.4 377.9,149.7 378.5,149.7 379.1,151.1 379.7,149.9 380.3,149.8 380.9,149.8 381.5,150.9 382.1,149.4 382.7,151.1 383.3,149.5 383.9,150.8 384.5,149.6 385.1,150.4 385.7,149.9 386.3,150.2 386.9,149.8 387.5,150.5 388.1,149.7 388.7,150.1 389.3,150.2 389.9,150.8 390.5,149.9 391.1,150.0 391.7,149.8 392.3,150.0 392.9,149.8 393.5,150.6 394.1,150.0 394.7,150.1 395.3,150.4 395.9,150.7 396.5,149.8 397.1,150.6 397.7,149.7 398.3,150.7 398.9,149.8 399.5,150.0 400.1,150.3 400.7,150.3 401.3,149.8 401.9,150.5 402.5,149.4 403.1,150.5 403.7,149.8 404.3,149.8 404.9,149.4 405.5,150.2 406.1,149.9 406.7,150.1 407.3,150.0 407.9,150.1 408.5,149.7 409.1,150.3 409.7,149.8 410.3,150.2 410.9,149.7 411.5,150.3 412.1,149.9 412.7,150.8 413.3,149.0 413.9,150.8 414.5,150.3 415.1,150.4 415.7,149.4 416.3,150.0 416.9,149.9 417.5,150.2 418.1,150.0 418.7,150.0 419.3,150.0 419.9,150.3 420.5,149.7 421.1,150.6 421.7,150.4 422.3,150.5 422.9,149.9 423.5,150.2 424.1,149.9 424.7,150.3 425.3,149.8 425.9,150.9 426.5,149.7 427.1,150.4 427.7,149.6 428.3,150.5 428.9,149.5 429.5,150.5 430.1,149.9 430.7,150.5 431.3,150.0 431.9,151.0 432.5,149.8 433.1,150.5 433.7,150.0 434.3,149.9 434.9,150.1 435.5,150.8 436.1,149.2 436.7,150.1 437.3,149.5 437.9,149.9 438.5,150.1 439.1,150.0 439.7,149.7 440.3,150.5 440.9,149.4 441.5,150.3 442.1,149.9 442.7,150.7 443.3,149.5 443.9,150.1 444.5,150.0 445.1,150.6 445.7,150.0 446.3,150.5 446.9,149.9 447.5,150.3 448.1,149.5 448.7,150.6 449.3,150.0 449.9,150.5 450.5,149.9 451.1,150.0 451.7,149.7 452.3,150.0 452.9,149.5 453.5,150.2 454.1,150.0 454.7,150.4 455.3,150.2 455.9,150.4 456.5,149.4 457.1,150.0 457.7,149.8 458.3,149.8 458.9,149.6 459.5,150.5 460.1,149.9 460.7,150.5 461.3,149.8 461.9,149.8 462.5,149.4 463.1,150.9 463.7,149.7 464.3,150.4 464.9,149.9 465.5,150.0 466.1,149.8 466.7,150.7 467.3,150.1 467.9,150.4 468.5,149.7 469.1,150.9 469.7,150.1 470.3,150.7 470.9,149.5 471.5,150.6 472.1,150.1 472.7,150.2 473.3,149.8 473.9,150.7 474.5,149.8 475.1,150.0 475.7,149.9 476.3,150.5 476.9,149.9 477.5,150.5 478.1,149.7 478.7,150.4 479.3,149.6 479.9,150.6 480.5,149.7 481.1,150.2 481.7,149.8 482.3,150.1 482.9,149.7 483.5,150.1 484.1,149.7 484.7,150.6 485.3,149.7 485.9,150.3 486.5,149.9 487.1,150.8 487.7,149.9 488.3,150.5 488.9,150.1 489.5,150.3 490.1,149.9 490.7,150.3 491.3,149.8 491.9,150.3 492.5,150.0 493.1,150.6 493.7,150.0 494.3,150.0 494.9,149.6 495.5,150.8 496.1,150.1 496.7,150.3 497.3,149.3 497.9,149.7 498.5,149.2 499.1,149.5 499.7,150.3 500.3,150.1 500.9,150.0 501.5,150.3 502.1,149.5 502.7,150.9 503.3,150.1 503.9,150.4 504.5,149.3 505.1,149.9 505.7,149.8 506.3,150.1 506.9,150.3 508.0,150.3 510.0,150.0 512.0,149.5 514.0,148.5 516.0,150.0 517.5,152.0 519.0,151.0 520.5,152.5 522.0,151.5 523.5,154.0"/>
<polyline fill="none" stroke="#4cc44c" stroke-width="1.3" stroke-linejoin="round" points="552.0,149.4 552.5,149.9 553.0,149.5 553.5,150.6 554.0,149.3 554.5,150.3 555.0,149.9 555.5,150.9 556.0,149.4 556.5,150.7 557.0,149.9 557.5,149.9 558.0,149.3 558.5,150.1 559.0,148.8 559.5,150.4 560.0,149.9 560.5,150.0 561.0,149.8 561.5,150.8 562.0,149.7 562.5,150.1 563.0,149.9 563.5,149.3 564.0,149.2 564.5,150.4 565.0,149.3 565.5,150.3 566.0,149.8 566.5,149.8 567.0,149.2 567.5,150.5 568.0,150.1 568.5,150.8 569.0,149.7 569.5,150.6 570.0,149.6 570.5,150.6 571.0,149.6 571.5,150.2 572.0,149.0 572.5,151.0 573.0,150.0 573.5,150.2 574.0,149.2 574.5,150.2 575.0,149.6 575.5,149.9 576.0,149.4 576.5,151.3 577.0,149.8 577.5,150.7 578.0,149.2 578.5,150.3 579.0,149.4 579.5,150.7 580.0,149.6 580.5,150.7 581.0,150.4 581.5,150.5 582.0,149.6 582.5,150.2 583.0,149.2 583.5,151.0 584.0,149.7 584.5,151.3 585.0,149.2 585.5,150.5 586.0,149.6 586.5,150.3 587.0,150.0 589.0,149.0 591.0,147.0 592.7,138.0 593.5,166.0 594.6,158.0 595.8,150.0 597.0,147.0 598.5,152.0 600.0,147.0 602.0,150.0 604.0,146.0 606.0,150.0 607.5,149.0 608.0,149.6 608.5,151.6 609.0,150.0 609.5,149.9 610.0,149.5 610.5,150.2 611.0,148.7 611.5,149.7 612.0,149.8 612.5,150.0 613.0,150.0 613.5,149.9 614.0,149.0 614.5,150.3 615.0,149.3 615.5,150.7 616.0,150.1"/>
<polyline fill="none" stroke="#4cc44c" stroke-width="1.5" stroke-linejoin="round" points="640.7,162.0 641.2,165.8 643.3,160.5 645.1,146.3 646.8,139.2 648.6,142.8 650.4,130.4 652.2,129.5 653.9,134.0 655.7,142.8 657.5,144.5 659.2,153.4 661.0,162.2 662.8,160.5 664.5,149.9 666.3,155.2 667.5,146.0 668.9,126.0 670.0,150.0 671.2,73.6 672.0,140.0 672.8,190.0 673.6,225.0 674.4,200.0 675.2,226.0 676.0,180.0 677.0,120.0 677.8,84.0 678.6,140.0 679.5,175.0 680.5,145.0 681.5,160.0 682.5,140.0 684.0,150.0 685.5,146.0 687.0,155.0 688.5,148.0 690.0,152.0 692.0,146.0 693.5,150.0 695.4,150.0"/>
<polyline fill="none" stroke="#e02890" stroke-width="1.3" stroke-linejoin="round" points="366.5,151.4 367.1,152.9 367.7,149.3 368.3,153.9 368.9,151.0 369.5,152.2 370.1,147.7 370.7,150.2 371.3,146.2 371.9,152.2 372.5,149.6 373.1,149.0 373.7,150.2 374.3,150.2 374.9,148.4 375.5,149.2 376.1,149.6 376.7,152.3 377.3,149.7 377.9,150.7 378.5,149.2 379.1,150.2 379.7,149.3 380.3,151.3 380.9,148.1 381.5,149.6 382.1,146.3 382.7,150.0 383.3,144.2 383.9,151.3 384.5,148.8 385.1,149.8 385.7,150.3 386.3,150.2 386.9,149.5 387.5,150.6 388.1,150.6 388.7,150.1 389.3,149.8 389.9,149.8 390.5,147.7 391.1,152.5 391.7,150.2 392.3,150.2 392.9,150.3 393.5,150.2 394.1,149.1 394.7,151.9 395.3,149.3 395.9,151.0 396.5,149.0 397.1,150.8 397.7,148.9 398.3,152.1 398.9,150.8 399.5,151.8 400.1,149.8 400.7,153.1 401.3,148.0 401.9,150.2 402.5,148.6 403.1,149.9 403.7,149.0 404.3,150.3 404.9,148.4 405.5,150.6 406.1,149.5 406.7,150.7 407.3,150.0 407.9,150.7 408.5,150.0 409.1,150.7 409.7,150.3 410.3,149.9 410.9,150.4 411.5,149.9 412.1,150.3 412.7,150.0 413.3,149.4 413.9,151.4 414.5,149.2 415.1,150.4 415.7,149.7 416.3,149.8 416.9,150.2 417.5,149.9 418.1,149.6 418.7,150.6 419.3,149.7 419.9,150.7 420.5,149.8 421.1,150.3 421.7,148.9 422.3,150.5 422.9,149.3 423.5,150.3 424.1,149.3 424.7,150.0 425.3,150.4 425.9,150.4 426.5,149.1 427.1,150.0 427.7,148.3 428.3,151.1 428.9,149.0 429.5,151.1 430.1,150.2 430.7,150.0 431.3,149.6 431.9,150.2 432.5,150.7 433.1,150.9 433.7,150.1 434.3,150.8 434.9,150.2 435.5,150.5 436.1,150.0 436.7,150.2 437.3,149.9 437.9,150.5 438.5,149.8 439.1,150.1 439.7,149.9 440.3,150.3 440.9,149.0 441.5,150.9 442.1,150.2 442.7,151.2 443.3,149.2 443.9,150.8 444.5,149.9 445.1,149.7 445.7,149.8 446.3,151.4 446.9,149.5 447.5,149.8 448.1,149.8 448.7,150.9 449.3,149.7 449.9,150.5 450.5,149.3 451.1,150.6 451.7,149.6 452.3,150.4 452.9,149.2 453.5,150.5 454.1,149.9 454.7,150.0 455.3,149.5 455.9,149.8 456.5,149.9 457.1,150.3 457.7,150.0 458.3,150.3 458.9,149.8 459.5,151.0 460.1,149.9 460.7,150.0 461.3,149.5 461.9,150.1 462.5,149.7 463.1,150.0 463.7,149.4 464.3,150.5 464.9,149.2 465.5,150.3 466.1,150.5 466.7,149.8 467.3,150.0 467.9,150.6 468.5,149.8 469.1,150.5 469.7,149.9 470.3,149.9 470.9,149.5 471.5,150.7 472.1,149.8 472.7,151.0 473.3,149.5 473.9,150.9 474.5,150.2 475.1,150.7 475.7,150.2 476.3,149.7 476.9,150.4 477.5,151.5 478.1,149.5 478.7,150.2 479.3,149.4 479.9,150.9 480.5,150.4 481.1,152.7 481.7,149.3 482.3,151.4 482.9,149.3 483.5,151.0 484.1,149.5 484.7,149.4 485.3,149.8 485.9,150.6 486.5,148.9 487.1,150.1 487.7,150.2 488.3,150.8 488.9,149.0 489.5,150.7 490.1,150.2 490.7,150.0 491.3,149.7 491.9,150.5 492.5,149.3 493.1,150.5 493.7,149.8 494.3,150.6 494.9,149.6 495.5,150.3 496.1,150.4 496.7,151.2 497.3,149.9 497.9,150.4 498.5,149.5 499.1,150.7 499.7,149.2 500.3,150.7 500.9,149.4 501.5,150.3 502.1,149.7 502.7,149.8 503.3,149.8 503.9,150.1 504.5,150.3 505.1,150.1 505.7,149.8 506.3,150.8 506.9,149.4 508.0,150.2 510.0,150.5 512.0,148.0 514.0,149.0 516.0,147.5 518.0,146.5 519.5,148.0 521.0,147.5 522.5,149.5 524.0,151.0"/>
<polyline fill="none" stroke="#e02890" stroke-width="1.3" stroke-linejoin="round" points="552.0,150.3 552.5,149.7 553.0,150.0 553.5,150.3 554.0,149.7 554.5,150.1 555.0,150.1 555.5,149.9 556.0,149.6 556.5,150.9 557.0,149.1 557.5,149.8 558.0,149.0 558.5,150.5 559.0,149.2 559.5,150.2 560.0,149.8 560.5,150.1 561.0,149.1 561.5,150.5 562.0,149.1 562.5,150.7 563.0,149.7 563.5,150.4 564.0,150.2 564.5,150.0 565.0,149.8 565.5,150.1 566.0,150.0 566.5,150.6 567.0,149.4 567.5,149.4 568.0,149.7 568.5,149.6 569.0,149.6 569.5,150.9 570.0,149.0 570.5,150.7 571.0,149.8 571.5,151.2 572.0,149.1 572.5,150.4 573.0,149.2 573.5,150.7 574.0,149.9 574.5,150.6 575.0,149.8 575.5,150.6 576.0,149.3 576.5,150.4 577.0,149.9 577.5,151.4 578.0,149.8 578.5,150.4 579.0,149.6 579.5,150.9 580.0,149.5 580.5,151.0 581.0,149.4 581.5,149.9 582.0,149.5 582.5,150.2 583.0,150.3 583.5,149.9 584.0,149.4 584.5,150.2 585.0,150.1 585.5,150.4 586.0,149.6 586.5,149.9 587.0,150.0 588.5,148.0 589.7,128.0 590.6,150.0 591.5,153.0 592.5,151.0 593.5,156.0 594.5,152.0 595.6,140.0 596.8,125.5 597.7,148.0 598.4,155.0 598.9,144.0 600.0,137.0 601.0,150.0 601.8,146.5 603.0,152.0 604.0,149.0 605.0,152.0 606.0,148.0 607.5,151.0 608.0,148.7 608.5,150.0 609.0,149.4 609.5,150.1 610.0,150.0 610.5,150.3 611.0,149.7 611.5,149.7 612.0,149.2 612.5,150.1 613.0,149.4 613.5,149.9 614.0,149.5 614.5,149.6 615.0,149.2 615.5,150.1 616.0,149.3"/>
<polyline fill="none" stroke="#e02890" stroke-width="1.5" stroke-linejoin="round" points="640.7,150.0 641.2,151.6 642.4,158.7 644.2,149.9 646.0,128.6 647.3,97.5 648.3,128.6 649.0,153.4 650.0,164.0 651.8,153.4 654.0,144.5 655.7,153.4 658.4,160.5 660.1,149.9 661.9,132.2 663.3,135.7 664.5,148.0 665.4,141.0 666.3,153.4 667.5,162.0 668.5,178.0 669.4,200.0 670.2,175.0 671.0,130.0 671.8,105.0 672.6,88.0 673.2,150.0 673.8,100.0 674.4,165.0 675.0,120.0 675.6,150.0 676.2,112.0 677.0,160.0 677.6,118.0 678.2,165.0 678.8,125.0 679.4,196.0 680.2,130.0 680.8,165.0 681.4,120.0 682.0,160.0 682.6,135.0 683.2,160.0 684.2,150.0 685.1,165.0 686.0,180.0 687.0,168.0 688.0,176.0 689.0,172.0 690.2,184.0 691.0,165.0 691.7,134.0 692.5,110.0 693.3,94.5 694.0,118.0 694.6,150.0 695.4,151.0"/></g>
<g font-size="10" fill="#111" stroke="#111" stroke-width="0.2" text-anchor="end">
<text x="357.6" y="38.2">0,3</text><text x="357.6" y="76.5">0,2</text><text x="357.6" y="114.8">0,1</text><text x="357.6" y="153.1">0,0</text>
<text x="357.6" y="191.5">-0,1</text><text x="357.6" y="229.8">-0,2</text><text x="357.6" y="268.1">-0,3</text>
</g>
<g font-size="10" fill="#111" stroke="#111" stroke-width="0.2" text-anchor="middle">
<text x="366.2" y="281.6">10000</text><text x="421.1" y="281.6">9000</text><text x="475.9" y="281.6">8000</text><text x="530.8" y="281.6">7000</text>
<text x="585.6" y="281.6">6000</text><text x="640.5" y="281.6">5000</text><text x="695.4" y="281.6">4000</text>
</g>
<text x="531" y="301.6" font-size="12.9" fill="#1a1a1a" text-anchor="middle">Wavenumber / cm<tspan font-size="8.6" dy="-5.5">-1</tspan></text>
<g font-size="15" fill="#111">
<text x="582.8" y="51">A3</text><text x="642.4" y="51">A2</text><text x="673.6" y="51">A1</text>
</g>
<line x1="369.2" y1="42.8" x2="398.8" y2="42.8" stroke="#6e1616" stroke-width="1.2"/>
<line x1="369.2" y1="58" x2="398.8" y2="58" stroke="#4cc44c" stroke-width="1.2"/>
<line x1="369.2" y1="73.2" x2="398.8" y2="73.2" stroke="#e02890" stroke-width="1.2"/>
<g font-size="12.4" fill="#111">
<text x="402.3" y="47.2">PC1</text><text x="402.3" y="62.4">PC2</text><text x="402.3" y="77.6">PC3</text>
</g>
</svg>
</body></html>
